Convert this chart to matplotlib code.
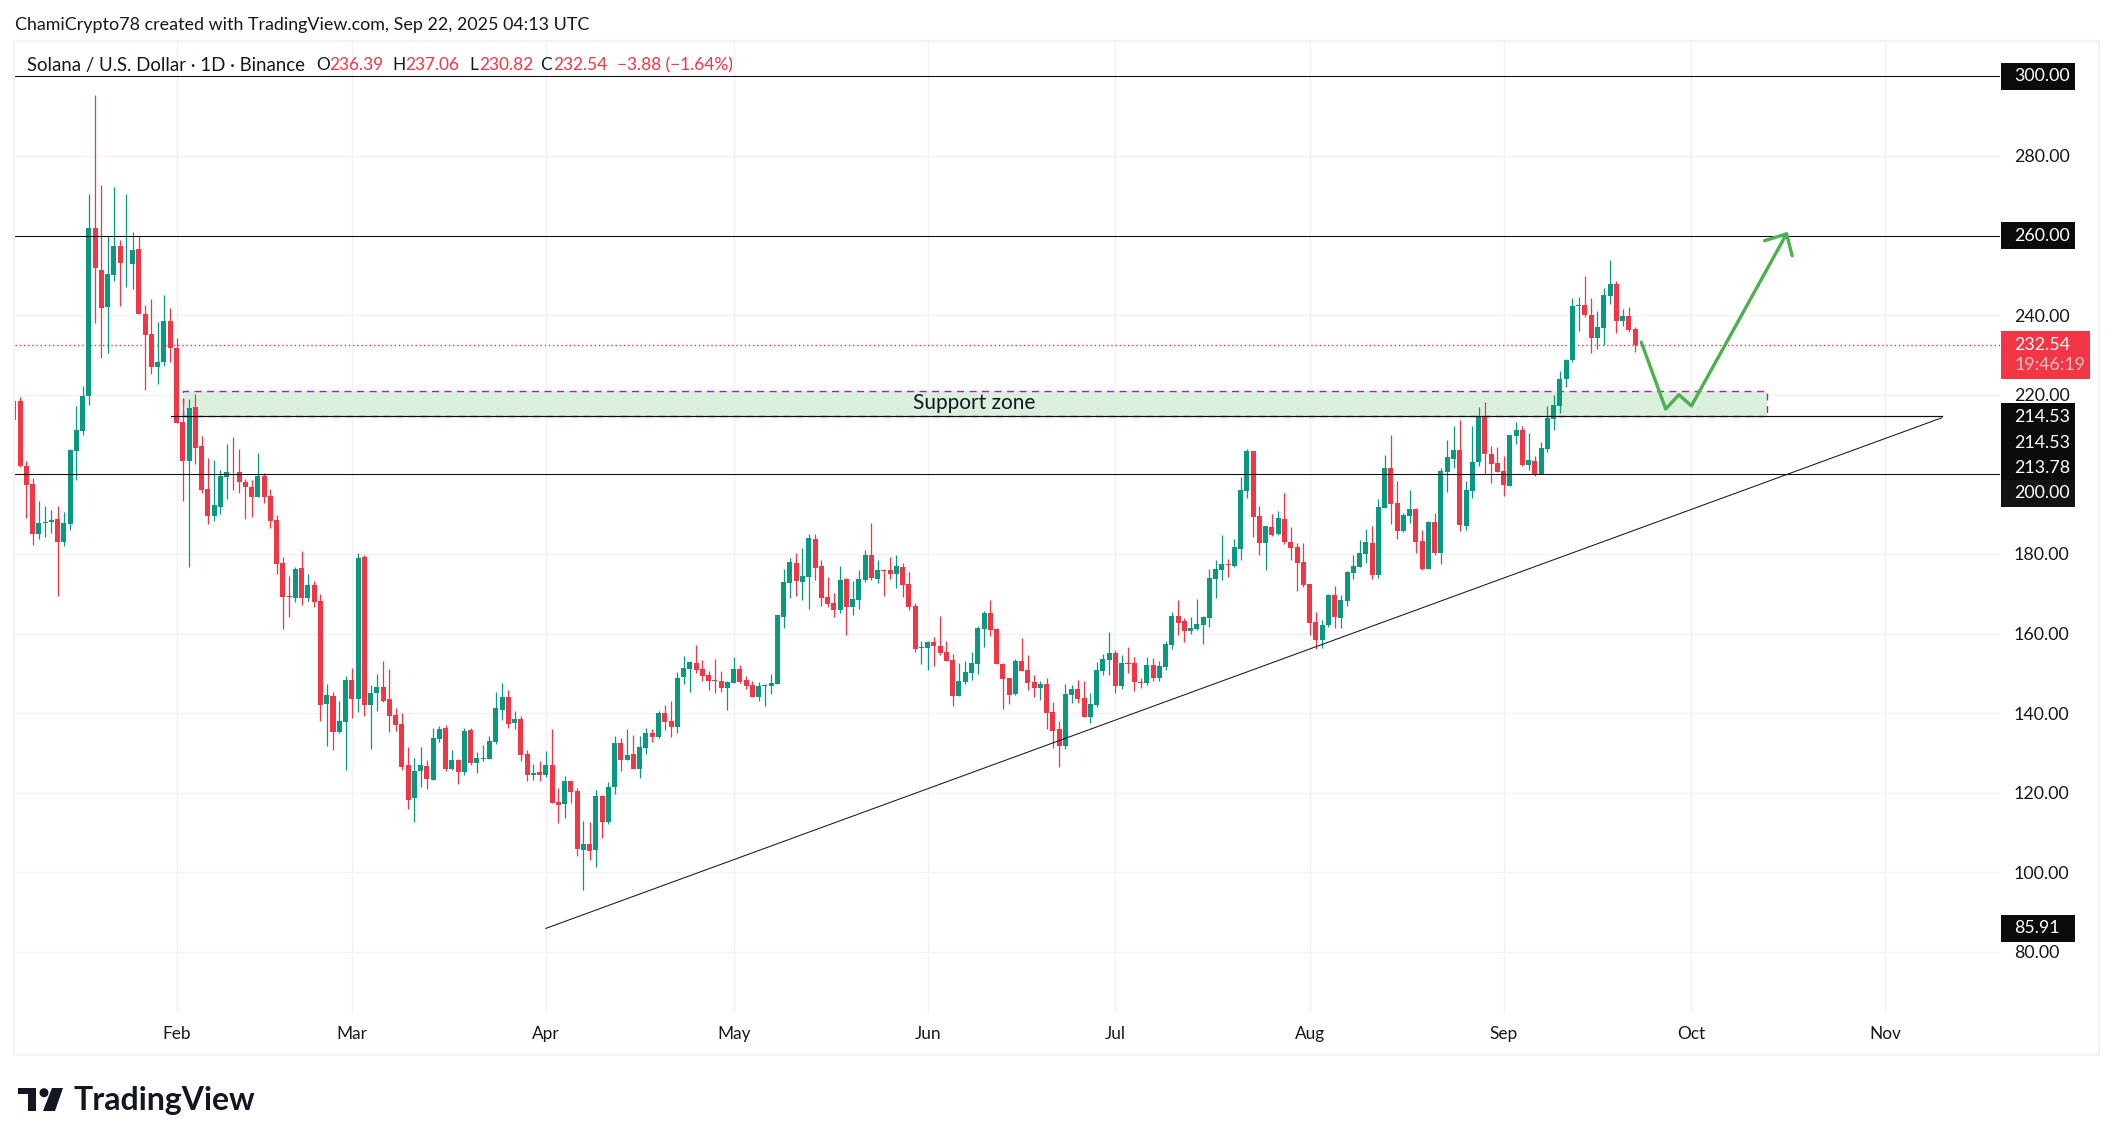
#!/usr/bin/env python3

'''
plot.py

  Functional Summary
    Daily candle chart of SOL/USD with hand drawn levels, trend line,
    support zone and projected path.
    Saves a plot to a graphics file (PNG).
'''

import pandas as pd
from matplotlib import pyplot as plt
from matplotlib.patches import Ellipse, Polygon, Rectangle

W = 2114; H = 1145
GREEN = "#089981"; RED = "#f23645"; GRID = "#f0f2f5"; PATH = "#4caf50"; ZONE = "#9c27b0"

# open, high, low, close : one row per day, first row is day 5 of 2025
ROWS = [
    (213.7,218.4,213.7,218.4),(218.4,219.3,201.8,202.0),(202.0,203.3,189.0,197.4),(197.6,199.1,182.3,185.0),
    (185.0,193.3,183.8,187.7),(187.7,192.0,184.2,188.0),(188.1,191.0,185.2,188.5),(188.7,192.0,169.4,182.9),
    (182.9,190.5,182.1,187.7),(187.5,206.4,186.0,206.2),(205.9,217.1,198.6,211.2),(210.9,222.2,209.9,219.7),
    (219.8,270.4,217.4,261.8),(261.8,295.3,237.9,251.8),(251.3,272.7,229.3,241.8),(242.1,260.0,230.4,250.3),
    (250.1,272.2,248.5,257.4),(257.4,258.9,242.3,253.1),(253.3,270.4,247.0,253.4),(252.8,260.8,246.5,256.4),
    (256.6,260.0,240.3,240.3),(240.3,242.6,221.3,235.0),(235.2,244.0,225.3,227.0),(227.0,238.3,222.8,228.2),
    (228.2,245.0,227.2,238.5),(238.5,241.8,228.2,231.7),(231.7,234.2,212.9,212.9),(213.2,218.8,193.3,203.3),
    (203.3,218.8,176.6,216.6),(216.8,220.2,202.7,206.7),(207.1,209.6,195.4,196.1),(196.3,204.1,187.5,189.5),
    (189.5,203.6,188.3,192.3),(191.8,201.1,190.0,199.6),(199.3,207.6,193.8,200.6),(200.7,209.4,196.0,200.5),
    (200.6,206.4,195.3,198.1),(198.1,198.8,188.8,196.8),(196.8,198.6,189.3,194.3),(194.3,205.4,194.3,199.6),
    (199.6,200.3,192.9,194.3),(194.6,196.3,186.5,188.3),(188.5,189.8,175.0,177.5),(177.7,179.2,161.1,169.2),
    (169.3,174.4,164.1,169.1),(168.9,176.7,167.9,176.2),(176.5,180.7,167.2,168.9),(168.9,174.9,168.2,172.2),
    (172.2,173.2,166.7,167.9),(168.2,169.9,138.0,142.0),(142.3,147.3,131.7,144.6),(144.3,145.3,130.7,135.3),
    (135.3,143.0,135.0,138.0),(137.8,149.3,125.7,148.3),(148.3,151.3,138.8,143.5),(143.5,180.2,140.3,179.0),
    (179.2,179.7,139.3,142.0),(142.0,147.1,131.0,145.0),(145.0,149.8,140.5,146.6),(146.6,153.1,142.8,143.0),
    (143.5,151.1,135.3,139.3),(139.5,141.3,135.5,137.0),(137.3,140.0,125.7,126.5),(127.0,131.5,115.9,118.2),
    (118.7,128.7,112.6,125.5),(125.5,131.5,121.4,127.0),(126.7,128.2,120.9,123.4),(123.2,136.3,123.2,133.7),
    (133.5,136.8,132.7,136.0),(136.3,137.0,125.5,126.0),(126.0,130.7,125.7,128.2),(128.2,128.5,122.2,125.2),
    (125.2,136.3,124.4,135.5),(135.7,136.3,127.0,127.5),(127.5,130.2,125.0,128.7),(128.5,132.0,128.0,128.7),
    (128.5,134.3,128.5,133.0),(132.7,145.3,132.2,141.3),(140.8,147.6,138.3,144.0),(144.0,145.8,136.3,137.3),
    (137.5,140.5,136.0,138.5),(138.5,139.3,128.0,129.5),(129.7,130.7,123.0,124.4),(124.4,127.2,123.2,125.0),
    (125.2,128.0,123.0,124.4),(124.4,130.5,124.0,127.0),(127.0,136.0,117.4,117.4),(117.7,121.2,112.4,116.9),
    (117.2,124.2,113.6,122.9),(122.9,122.9,117.4,120.2),(120.4,121.2,104.1,105.9),(105.6,112.9,95.6,107.1),
    (107.1,112.6,103.1,105.4),(105.6,120.7,101.3,119.2),(119.2,119.4,108.6,112.6),(112.6,122.7,112.1,121.4),
    (121.4,134.2,119.7,132.5),(132.5,133.7,125.4,128.2),(128.2,136.0,128.2,129.5),(129.7,134.5,126.0,126.0),
    (126.0,134.3,123.7,131.5),(131.2,136.3,129.7,135.0),(135.0,136.0,132.7,134.0),(134.0,140.5,133.7,140.0),
    (140.0,142.0,135.8,137.8),(138.0,143.0,134.0,136.5),(136.5,150.3,135.0,148.8),(149.1,154.3,147.3,151.3),
    (151.1,153.1,145.3,152.8),(152.6,157.1,150.1,150.8),(151.1,153.3,148.1,149.3),(149.6,150.6,145.8,148.1),
    (148.3,153.6,145.0,148.1),(148.1,150.6,145.3,146.3),(146.3,148.1,140.8,147.8),(147.6,154.1,147.6,151.1),
    (151.1,152.1,147.6,147.8),(148.3,149.3,146.1,146.8),(147.1,148.1,144.0,144.0),(144.0,147.8,143.0,146.8),
    (146.8,147.3,141.8,147.1),(146.8,149.8,144.8,147.6),(147.3,164.6,147.3,164.6),(164.1,176.2,161.4,172.9),
    (172.7,179.0,168.9,178.0),(177.7,180.2,169.4,173.2),(173.0,181.5,168.4,174.5),(174.2,185.0,166.2,184.0),
    (183.8,185.0,173.4,176.5),(177.0,178.5,167.0,169.0),(169.2,174.2,166.7,167.4),(167.7,170.2,164.2,165.9),
    (165.9,177.0,165.2,173.4),(173.7,174.0,159.6,166.7),(166.7,173.2,164.7,168.7),(168.4,176.0,166.2,173.7),
    (173.4,181.0,172.9,179.7),(179.7,187.8,173.4,174.0),(173.7,178.5,172.7,176.0),(176.0,176.2,169.4,175.8),
    (176.0,179.2,173.7,175.0),(175.0,179.7,171.4,177.0),(176.7,177.7,169.2,172.2),(172.4,175.4,165.9,166.7),
    (166.9,167.7,155.3,156.1),(156.4,158.1,152.3,156.6),(156.4,158.1,150.8,157.9),(157.9,159.1,151.8,156.9),
    (156.9,164.4,154.6,155.1),(155.3,158.1,153.1,153.1),(153.3,154.8,141.8,144.3),(144.3,152.6,144.3,148.1),
    (147.8,153.1,147.3,150.3),(150.1,155.3,148.3,152.6),(152.3,161.9,149.8,161.4),(161.1,165.7,156.6,165.2),
    (165.2,168.4,159.4,160.9),(161.1,161.4,152.3,152.3),(152.3,152.6,141.0,148.6),(148.8,148.8,142.3,144.5),
    (144.8,153.6,144.5,153.1),(153.1,158.9,150.6,150.6),(150.8,154.6,145.8,147.6),(147.8,149.6,144.0,146.3),
    (146.3,148.1,143.3,147.3),(147.3,148.8,136.0,140.0),(140.3,142.8,131.2,135.5),(136.0,138.0,126.5,131.7),
    (131.7,147.3,131.0,144.8),(144.6,147.1,142.5,146.1),(146.1,148.3,142.5,143.5),(143.8,148.1,139.0,139.0),
    (139.0,145.0,137.5,142.3),(142.0,152.8,141.5,150.8),(150.6,154.8,149.6,153.6),(153.3,160.4,149.6,155.1),
    (155.1,155.9,145.0,146.8),(146.8,154.6,146.1,152.6),(152.6,156.6,150.1,152.4),(152.6,154.1,145.5,147.8),
    (147.8,148.8,146.3,147.6),(147.6,154.1,147.1,152.1),(152.1,153.8,148.1,148.8),(148.8,153.1,148.1,151.8),
    (151.6,158.1,150.8,157.3),(157.1,165.4,156.1,164.4),(164.4,168.4,159.6,162.6),(163.1,164.0,157.9,160.6),
    (160.6,164.1,159.9,161.4),(161.1,168.7,160.9,162.4),(162.1,164.4,157.4,164.1),(163.9,176.2,161.6,173.9),
    (173.7,178.5,168.9,176.2),(176.0,184.8,173.4,177.5),(177.5,178.7,174.2,177.2),(177.0,183.7,176.7,181.7),
    (181.2,199.3,178.5,196.0),(195.8,206.4,194.0,205.9),(205.9,205.9,184.3,189.3),(189.5,192.0,179.7,182.7),
    (182.7,187.0,176.0,187.0),(186.7,190.0,184.5,184.7),(185.0,190.8,184.7,189.0),(188.8,195.3,182.5,183.0),
    (183.0,186.8,178.5,181.5),(181.7,182.7,170.7,177.7),(178.0,182.7,171.7,172.2),(172.4,172.4,159.6,162.6),
    (162.9,165.4,156.1,158.4),(158.4,163.4,156.4,162.1),(162.1,170.0,161.6,169.7),(169.7,171.9,161.4,164.1),
    (163.9,169.7,161.4,168.4),(168.2,175.7,166.9,175.5),(175.2,179.7,173.7,177.0),(176.7,183.5,176.7,180.2),
    (180.0,186.3,177.7,183.0),(182.7,187.0,173.7,174.7),(174.7,193.8,174.0,191.8),(191.5,204.8,191.5,201.6),
    (201.6,209.9,187.5,192.5),(192.8,198.3,183.8,185.8),(185.8,190.3,185.5,189.8),(189.5,196.1,187.8,191.3),
    (191.3,191.5,180.2,183.0),(183.2,186.0,176.0,176.2),(176.2,188.3,176.2,188.0),(188.0,190.3,179.7,180.2),
    (180.2,201.5,177.5,200.8),(200.6,208.6,195.6,204.4),(203.9,212.1,201.6,206.1),(206.1,213.6,185.7,187.3),
    (187.0,198.3,186.0,196.0),(195.8,212.1,194.0,203.1),(203.0,216.9,202.1,214.7),(214.4,218.2,200.1,205.1),
    (205.1,207.1,197.8,202.6),(202.8,206.9,200.6,200.6),(200.8,204.6,194.6,197.3),(197.1,209.9,197.1,209.9),
    (209.6,213.1,207.6,211.1),(211.1,212.1,202.1,202.3),(202.3,210.4,201.1,203.6),(203.3,204.6,199.6,199.8),
    (200.1,208.1,200.1,206.6),(206.4,217.2,205.6,214.1),(213.9,219.9,211.1,217.4),(217.2,225.9,215.4,223.9),
    (223.9,229.0,221.9,228.7),(228.7,244.3,228.2,242.3),(242.3,244.5,236.0,242.5),(242.5,249.8,239.5,240.0),
    (240.0,244.3,230.5,234.2),(234.2,241.0,231.5,237.0),(236.8,246.8,232.5,245.0),(244.8,253.8,242.8,247.8),
    (247.8,248.6,235.5,238.5),(238.5,241.5,237.3,239.8),(239.8,242.0,235.8,236.3),(236.39,237.06,230.82,232.54),
]

def figtext(px, py, s, color="#131722", size=12.4, **kw):
    plt.figtext(px / W, 1 - py / H, s, color=color, fontsize=size, va="center", **kw)

def price_box(price, s, color="#0b0b0c", right=334.3, top=3.4, bottom=3.4):
    plt.gca().add_patch(Rectangle((322.5, price - bottom), right - 322.5, top + bottom, facecolor=color, edgecolor="none", clip_on=False, zorder=6))
    plt.text(324.6, price, s, color="white", fontsize=12.8, va="center", ha="left", clip_on=False, zorder=7)

def main():
    plt.rcParams["font.family"] = ["Lato", "DejaVu Sans"]
    outfile = "out.png"

    d = pd.DataFrame(ROWS, columns=["open", "high", "low", "close"])
    d["day"] = range(5, 5 + len(d))
    up = d["close"] >= d["open"]
    colors = [GREEN if u else RED for u in up]

    fig = plt.figure(figsize=(W / 100, H / 100), dpi=100)
    plt.axes([15 / W, 1 - 1013 / H, 1985 / W, 972 / H])
    plt.xlim(5.2, 322.3)
    plt.ylim(64.65, 308.87)

    # grid and axes, the boxed levels get their label from price_box
    plt.yticks(range(80, 301, 20), ["" if p in (200, 260, 300) else f"{p}.00" for p in range(80, 301, 20)])
    plt.xticks([31, 59, 90, 120, 151, 181, 212, 243, 273, 304],
               ["Feb", "Mar", "Apr", "May", "Jun", "Jul", "Aug", "Sep", "Oct", "Nov"])
    plt.grid(color=GRID, linewidth=1, zorder=0)
    plt.gca().set_axisbelow(True)
    plt.tick_params(axis="y", left=False, labelleft=False, right=False, labelright=True, length=0, pad=10, labelsize=12.8, labelcolor="#131722")
    plt.tick_params(axis="x", bottom=False, length=0, pad=9.7, labelsize=12.4, labelcolor="#131722")
    for spine in plt.gca().spines.values():
        spine.set_visible(False)

    # support zone, levels
    plt.gca().add_patch(Rectangle((32.06, 214.7), 252.94, 6.15, facecolor="#daefdc", edgecolor="none", zorder=1))
    plt.gca().add_patch(Rectangle((32.06, 214.7), 252.94, 6.15, fill=False, edgecolor=ZONE, linewidth=1, linestyle=(0, (5, 4)), zorder=1.5))
    plt.axhline(232.54, color=RED, linewidth=1, linestyle=(0, (1, 2)), zorder=1.5)

    # candles
    plt.vlines(d["day"], d["low"], d["high"], colors=colors, linewidth=0.9, zorder=3)
    plt.bar(d["day"], (d["close"] - d["open"]).abs(), bottom=d[["open", "close"]].min(axis=1), width=0.8, color=colors, linewidth=0, zorder=3)

    # hand drawn lines
    for level in [300, 260, 200]:
        plt.axhline(level, color="#0b0b0c", linewidth=0.75, zorder=4)
    plt.plot([30.1, 313], [214.53, 214.53], color="#0b0b0c", linewidth=0.85, zorder=4)
    plt.plot([90, 313], [85.91, 214.2], color="#131722", linewidth=0.75, zorder=4)
    plt.text(158.5, 217.8, "Support zone", color="#131722", fontsize=15, ha="center", va="center", zorder=5)

    # projected path
    plt.plot([265.0, 268.9, 271.0, 273.0, 288.2], [233.2, 216.4, 220.0, 217.2, 260.4], color=PATH, linewidth=2.4, solid_joinstyle="round", solid_capstyle="round", zorder=5)
    plt.plot([284.7, 288.2, 289.1], [258.7, 260.4, 254.9], color=PATH, linewidth=2.4, solid_joinstyle="round", solid_capstyle="round", zorder=5)

    # labels on the price scale
    price_box(300, "300.00")
    price_box(260, "260.00")
    price_box(85.91, "85.91")
    price_box(214.5, "214.53")
    price_box(207.9, "214.53")
    price_box(201.7, "213.78")
    price_box(195.2, "200.00", color="#131313")
    plt.gca().add_patch(Rectangle((322.5, 224.0), 14.2, 12.0, facecolor=RED, edgecolor="none", clip_on=False, zorder=6))
    plt.text(324.6, 232.6, "232.54", color="white", fontsize=12.8, va="center", clip_on=False, zorder=7)
    plt.text(324.6, 227.4, "19:46:19", color="#fbc1c7", fontsize=12.8, va="center", clip_on=False, zorder=7)

    # header
    figtext(15, 25, "ChamiCrypto78 created with TradingView.com, Sep 22, 2025 04:13 UTC", size=12.9)
    figtext(27, 65, "Solana / U.S. Dollar · 1D · Binance", size=13.4)
    for px, s, color in [(316, "O", "#131722"), (329, "236.39", RED), (392.5, "H", "#131722"), (405, "237.06", RED),
                         (469, "L", "#131722"), (479.3, "230.82", RED), (540.6, "C", "#131722"), (553, "232.54", RED),
                         (617, "−3.88 (−1.64%)", RED)]:
        figtext(px, 65, s, color=color, size=12.4)

    # frame and logo
    fig.add_artist(Rectangle((14 / W, 1 - 1055 / H), 2085 / W, 1014 / H, fill=False, edgecolor="#f0f3f6", linewidth=1.5, transform=fig.transFigure))
    logo = [[(18, 1088), (36, 1088), (36, 1111), (27.5, 1111), (27.5, 1094), (18, 1094)],
            [(52, 1088), (63, 1088), (55, 1111), (43, 1111)]]
    for pts in logo:
        fig.add_artist(Polygon([(x / W, 1 - y / H) for x, y in pts], closed=True, facecolor="#131722", edgecolor="none", transform=fig.transFigure))
    fig.add_artist(Ellipse((44 / W, 1 - 1092.7 / H), 9 / W, 9 / H, facecolor="#131722", edgecolor="none", transform=fig.transFigure))
    figtext(73, 1100.5, "TradingView", size=23, fontweight="bold")

    plt.savefig(outfile, dpi=100)

if __name__ == "__main__":
    main()
